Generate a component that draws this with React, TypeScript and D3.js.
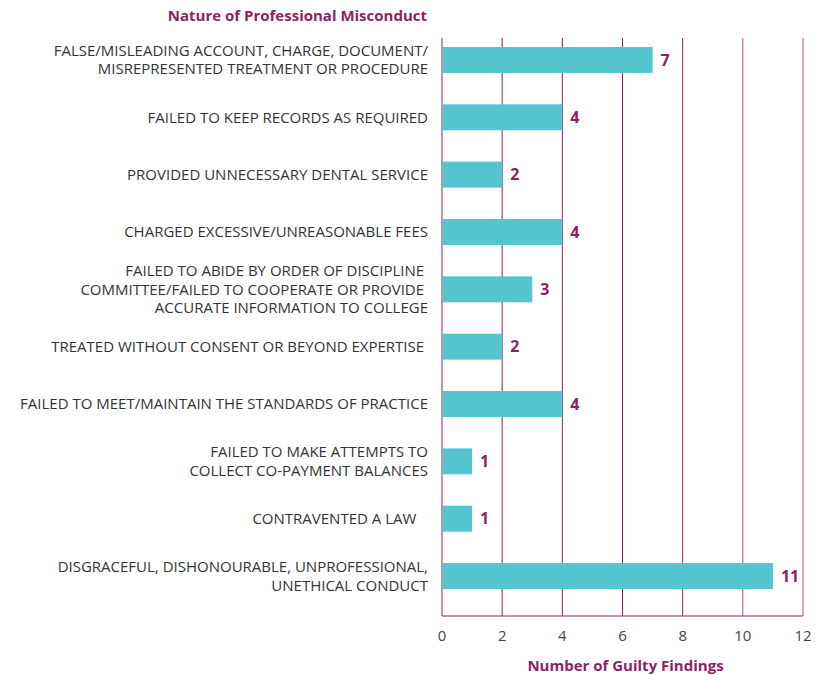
import React from "react";
import * as d3 from "d3";

const categories: string[][] = [
  ["FALSE/MISLEADING ACCOUNT, CHARGE, DOCUMENT/", "MISREPRESENTED TREATMENT OR PROCEDURE"],
  ["FAILED TO KEEP RECORDS AS REQUIRED"],
  ["PROVIDED UNNECESSARY DENTAL SERVICE"],
  ["CHARGED EXCESSIVE/UNREASONABLE FEES"],
  ["FAILED TO ABIDE BY ORDER OF DISCIPLINE ", "COMMITTEE/FAILED TO COOPERATE OR PROVIDE ", "ACCURATE INFORMATION TO COLLEGE"],
  ["TREATED WITHOUT CONSENT OR BEYOND EXPERTISE "],
  ["FAILED TO MEET/MAINTAIN THE STANDARDS OF PRACTICE"],
  ["FAILED TO MAKE ATTEMPTS TO", "COLLECT CO-PAYMENT BALANCES"],
  ["CONTRAVENTED A LAW   "],
  ["DISGRACEFUL, DISHONOURABLE, UNPROFESSIONAL,", "UNETHICAL CONDUCT"],
];
const findings = [7, 4, 2, 4, 3, 2, 4, 1, 1, 11];
const xTicks = [0, 2, 4, 6, 8, 10, 12];

const width = 825;
const height = 675;
const plotLeft = 442;
const plotRight = 803;
const plotTop = 38;
const axisY = 616;
const purple = "#8e1f62";
const teal = "#55c5d0";
const font = "'Open Sans', sans-serif";

const App = () => {
  const x = d3.scaleLinear().domain([0, 12]).range([plotLeft, plotRight]);
  const y = d3
    .scaleBand<number>()
    .domain(d3.range(categories.length))
    .range([31.3, 604.7])
    .paddingInner(0.547)
    .paddingOuter(0.2735);
  const lineH = 18.5;

  return (
    <svg width={width} height={height} style={{ position: "absolute", left: 0, top: 0 }}>
      <text x={427} y={16} dy="0.35em" textAnchor="end" fontFamily={font} fontWeight={700} fontSize={15} fill={purple}>
        Nature of Professional Misconduct
      </text>

      {/* grid */}
      {xTicks.map((t) => (
        <line key={t} x1={x(t)} x2={x(t)} y1={plotTop} y2={axisY} stroke={purple} strokeWidth={1} opacity={t >= 10 ? 0.75 : 1} />
      ))}
      <line x1={plotLeft} x2={plotRight} y1={axisY} y2={axisY} stroke={purple} strokeWidth={1} />

      {/* bars */}
      {findings.map((v, i) => {
        const cy = (y(i) as number) + y.bandwidth() / 2;
        return (
          <g key={i}>
            <rect x={x(0) + 0.5} y={y(i)} width={x(v) - x(0) - 0.5} height={y.bandwidth()} fill={teal} />
            <text x={x(v) + 8} y={cy} dy="0.35em" fontFamily={font} fontWeight={700} fontSize={16} fill={purple}>
              {v}
            </text>
            {categories[i].map((ln, j) => (
              <text
                key={j}
                x={428}
                y={cy + (j - (categories[i].length - 1) / 2) * lineH}
                dy="0.35em"
                textAnchor="end"
                fontFamily={font}
                fontSize={15}
                fill="#333"
                style={{ whiteSpace: "pre" }}
              >
                {ln}
              </text>
            ))}
          </g>
        );
      })}

      {/* x tick labels */}
      {xTicks.map((t) => (
        <text key={t} x={x(t)} y={636} dy="0.35em" textAnchor="middle" fontFamily={font} fontSize={15} fill="#444">
          {t}
        </text>
      ))}
      <text x={(plotLeft + plotRight) / 2 + 3} y={666} dy="0.35em" textAnchor="middle" fontFamily={font} fontWeight={700} fontSize={15} fill={purple}>
        Number of Guilty Findings
      </text>
    </svg>
  );
};

export default App;
